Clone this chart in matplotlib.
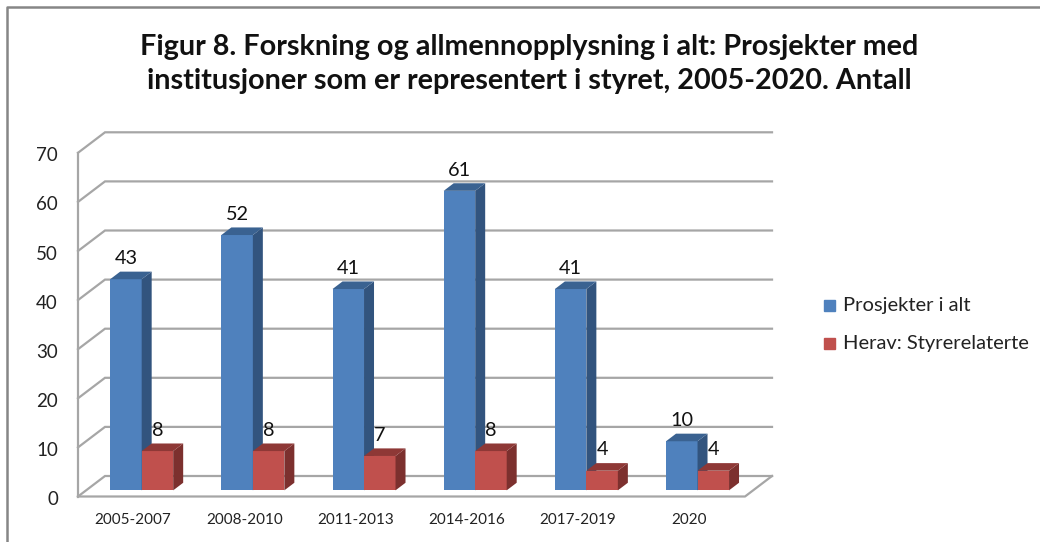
import matplotlib
matplotlib.use("Agg")
import matplotlib.pyplot as plt
from matplotlib.patches import Rectangle

plt.rcParams['font.family'] = ['Lato', 'DejaVu Sans']

# Data
periods = ["2005-2007", "2008-2010", "2011-2013", "2014-2016", "2017-2019", "2020"]
prosjekter = [43, 52, 41, 61, 41, 10]
styrerelaterte = [8, 8, 7, 8, 4, 4]
y_ticks = [0, 10, 20, 30, 40, 50, 60, 70]
names = ["Prosjekter i alt", "Herav: Styrerelaterte"]
title = ("Figur 8. Forskning og allmennopplysning i alt: Prosjekter med\n"
         "institusjoner som er representert i styret, 2005-2020. Antall")

# Colours
blue, blue_side, blue_top = "#4F81BD", "#32547E", "#3A6291"
red, red_side, red_top = "#C0504D", "#7C302E", "#8E3836"
grid = "#A6A6A6"

W, H = 1040, 542
x0_px, y0_px = 78, 496.5     # where the front corner of the floor sits
px_x = 111.17                # pixels per category
px_y = 4.91                  # pixels per unit
dx = 27 / px_x               # depth of the 3D box, in data units
dy = 20.5 / px_y

fig = plt.figure(figsize=(W / 100, H / 100), dpi=100)
ax = fig.add_axes([0, 0, 1, 1])
ax.set_xlim(-x0_px / px_x, (W - x0_px) / px_x)
ax.set_ylim((y0_px - H) / px_y, y0_px / px_y)
ax.axis("off")

n = len(periods)

# walls and floor
for t in y_ticks:
    ax.plot([0, dx, n + dx], [t, t + dy, t + dy], color=grid, lw=1.6, zorder=1,
            solid_joinstyle="miter")
ax.plot([0, 0], [0, y_ticks[-1]], color=grid, lw=1.6, zorder=1)
ax.plot([0, n, n + dx], [0, 0, dy], color=grid, lw=1.6, zorder=1)


def bar3d(x, w, h, front, side, top):
    # front face through bar, side and top as polygons behind it
    f0 = 0.30
    d = 0.37
    bx, by = x + f0 * dx, f0 * dy
    ox, oy = d * dx, d * dy
    ax.bar(bx, h, bottom=by, width=w, align="edge", color=front, zorder=3)
    ax.fill([bx + w, bx + w + ox, bx + w + ox, bx + w],
            [by, by + oy, by + h + oy, by + h], color=side, lw=0, zorder=3)
    ax.fill([bx, bx + ox, bx + w + ox, bx + w],
            [by + h, by + h + oy, by + h + oy, by + h], color=top, lw=0, zorder=3)
    return bx + w / 2 + 0.0, by + h + oy


bar_w = 31.5 / px_x
for i in range(n):
    left = i + 0.5 - bar_w
    tx, ty = bar3d(left, bar_w, prosjekter[i], blue, blue_side, blue_top)
    ax.annotate(str(prosjekter[i]), (tx, ty), xytext=(0, 9.5), textcoords="offset points",
                ha="center", va="center", fontsize=14.3, color="#111111", zorder=5)
    tx, ty = bar3d(left + bar_w, bar_w, styrerelaterte[i], red, red_side, red_top)
    ax.annotate(str(styrerelaterte[i]), (tx, ty), xytext=(0, 9.5), textcoords="offset points",
                ha="center", va="center", fontsize=14.3, color="#111111", zorder=5)
    ax.text(i + 0.5 - 0.5 / px_x, -23 / px_y, periods[i], ha="center", va="center", fontsize=11,
            color="#222222")

for t in y_ticks:
    ax.text(-20 / px_x, t - 3 / px_y, str(t), ha="right", va="center", fontsize=13.5,
            color="#222222")

# Title
fig.text(529.5 / W, 1 - 64 / H, title, ha="center", va="center", fontsize=20.7, fontweight="bold",
         color="#111111", linespacing=1.4)

# Legend
for name, col, yy in zip(names, [blue, red], [305, 343]):
    fig.patches.append(Rectangle((824 / W, 1 - (yy + 5.5) / H), 11 / W, 11 / H,
                                 transform=fig.transFigure, color=col))
    fig.text(843 / W, 1 - (yy + 1) / H, name, ha="left", va="center", fontsize=14.5,
             color="#222222")

# Outer chart border, top and left only show in the crop
fig.add_artist(plt.Line2D([7 / W, 7 / W, 1], [0, 1 - 7 / H, 1 - 7 / H], color="#868686", lw=1.8,
                          transform=fig.transFigure))

fig.savefig("out.png", dpi=100)
